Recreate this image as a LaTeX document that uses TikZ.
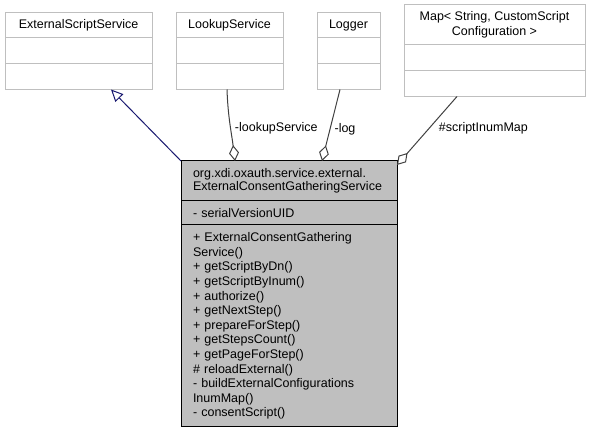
\documentclass[tikz,border=0pt]{standalone}
\usepackage{fontspec}
\setmainfont{Liberation Sans}
\usepackage{tikz}
\usetikzlibrary{arrows.meta,positioning}
\definecolor{grey75}{RGB}{191,191,191}
\definecolor{grey25}{RGB}{64,64,64}
\definecolor{midnightblue}{RGB}{25,25,112}
\tikzset{
  cls/.style={draw=grey75, line width=1pt, outer sep=0pt, inner sep=0pt, align=center, font=\fontsize{12.5}{15}\selectfont},
  cur/.style={draw=black, fill=grey75, line width=1pt, outer sep=0pt, inner xsep=12pt, inner ysep=0pt, text width=192pt, align=left, font=\fontsize{12.5}{14.6}\selectfont},
  aggr/.style={grey25, line width=1pt, -{Diamond[open,length=16pt,width=10pt]}},
  inh/.style={midnightblue, line width=1pt, -{Triangle[open,length=12pt,width=11pt]}},
  lbl/.style={black, font=\fontsize{12.5}{15}\selectfont, inner sep=4pt},
}

\begin{document}
\begin{tikzpicture}[x=1pt,y=1pt]
\useasboundingbox (0,0) rectangle (590,433);
% used classes
\node[cls, minimum width=147pt, minimum height=25pt] (ess) at (78.5,407.5) {ExternalScriptService};
\node[cls, minimum width=107pt, minimum height=25pt] (lookup) at (229.5,407.5) {LookupService};
\node[cls, minimum width=63pt, minimum height=25pt] (logger) at (348.5,407.5) {Logger};
\node[cls, minimum width=181pt, minimum height=40pt] (map) at (494.5,408) {Map< String, CustomScript\\Configuration >};
\foreach \n/\w in {ess/147, lookup/107, logger/63, map/181} {
  \node[cls, minimum width=\w pt, minimum height=26pt, below=0pt of \n] (\n-a) {};
  \node[cls, minimum width=\w pt, minimum height=25.5pt, below=0pt of \n-a] (\n-m) {};
}
% the class itself
\node[cur, minimum height=40pt, font=\fontsize{12.5}{13}\selectfont] (main) at (289,252) {org.xdi.oxauth.service.external.\\ExternalConsentGatheringService};
\node[cur, minimum height=24pt, below=0pt of main] (main-a) {- serialVersionUID};
\node[cur, minimum height=202pt, below=0pt of main-a] (main-m) {+ ExternalConsentGathering\\Service()\\+ getScriptByDn()\\+ getScriptByInum()\\+ authorize()\\+ getNextStep()\\+ prepareForStep()\\+ getStepsCount()\\+ getPageForStep()\\\# reloadExternal()\\- buildExternalConfigurations\\InumMap()\\- consentScript()};
% relations
\draw[inh] (main.north west) -- ([xshift=32.5pt]ess-m.south);
\draw[aggr] ([xshift=-2.5pt]lookup-m.south) to[out=-88,in=97] node[lbl, pos=0.54, right] (lookup-lbl) {-lookupService} ([xshift=54pt]main.north west);
\draw[aggr] ([xshift=-8.5pt]logger-m.south) -- node[lbl, pos=0.55, right] (logger-lbl) {-log} ([xshift=141pt]main.north west);
\draw[aggr] ([xshift=-37.5pt]map-m.south) -- node[lbl, pos=0.46, right, xshift=5pt] (map-lbl) {\#scriptInumMap} ([yshift=-4pt]main.north east);
\end{tikzpicture}
\end{document}
